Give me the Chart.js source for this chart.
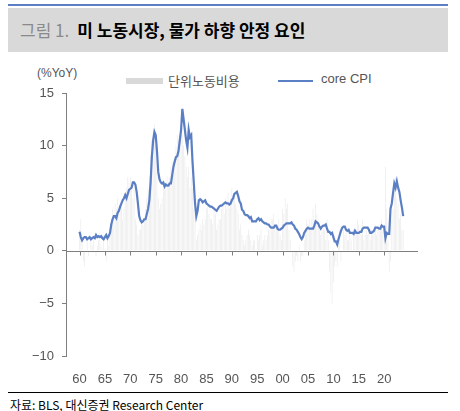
<!DOCTYPE html>
<html>
<head>
<meta charset="utf-8">
<script src="https://cdn.jsdelivr.net/npm/chart.js@4"></script>
<style>
  body { margin: 0; width: 460px; height: 411px; background: #fff; position: relative; overflow: hidden;
         font-family: "Noto Sans CJK KR", "Liberation Sans", sans-serif; }
  #topline { position: absolute; left: 8px; top: 4px; width: 440px; height: 2px; background: #5b7fc5; }
  #band { position: absolute; left: 8px; top: 8px; width: 440px; height: 44px; background: #d9d9d9; }
  #title { position: absolute; left: 20px; top: 17px; font-size: 17px; font-weight: bold; color: #000; }
  #title span { color: #8a8a8a; font-weight: normal; margin-right: 8px; }
  #unit { position: absolute; left: 37px; top: 66px; font-size: 12px; color: #555; font-family: "Liberation Sans", sans-serif; }
  .lg { position: absolute; top: 71px; font-size: 13px; color: #555; }
  .sw { position: absolute; }
  #srcline { position: absolute; left: 8px; top: 392px; width: 440px; height: 1px; background: #000; }
  #src { position: absolute; left: 10px; top: 396px; font-size: 12px; color: #000; }
  canvas { position: absolute; left: 0; top: 0; }
</style>
</head>
<body>
<div id="topline"></div>
<div id="band"></div>
<div id="title"><span>그림 1.</span>미 노동시장, 물가 하향 안정 요인</div>
<div id="unit">(%YoY)</div>
<div class="sw" style="left:126px;top:78px;width:37px;height:6px;background:#d9d9d9"></div>
<div class="lg" style="left:168px">단위노동비용</div>
<div class="sw" style="left:278px;top:80px;width:35px;height:2px;background:#5b7fc5"></div>
<div class="lg" style="left:321px;font-family:'Liberation Sans',sans-serif">core CPI</div>
<div id="srcline"></div>
<div id="src">자료: BLS, 대신증권 Research Center</div>
<canvas id="chart" width="460" height="411"></canvas>
<script>
var startYear = 1960;
var yTicks = [15, 10, 5, 0, -5, -10];

// core CPI, quarterly from 1960Q1
var coreCpi = [
  1.8,1.3,1.0,1.2, 1.3,1.3,1.1,1.2, 1.3,1.1,1.2,1.3, 1.2,1.5,1.3,1.4, 1.3,1.4,1.2,1.1,
  1.3,1.5,1.2,1.4, 1.7,2.5,3.0,3.3, 3.3,3.1,3.6,3.8, 4.2,4.5,4.8,5.0, 5.3,5.0,5.4,5.8,
  5.9,6.0,6.5,6.5, 6.3,5.6,4.5,3.3, 2.9,2.7,2.8,3.0, 3.0,3.5,4.0,4.8, 6.5,9.0,10.5,11.3,
  11.0,9.5,7.5,6.8, 6.5,6.4,6.5,6.1, 6.3,6.2,6.2,6.4, 6.4,7.2,8.0,8.5, 8.9,9.0,9.5,10.5,
  11.5,13.5,12.5,11.5, 10.5,9.8,11.5,10.8, 11.0,8.5,6.5,4.5, 3.3,3.8,4.8,4.9, 4.8,4.6,4.7,4.8,
  4.5,4.4,4.3,4.2, 4.2,4.1,4.0,3.9, 3.8,4.0,4.2,4.3, 4.3,4.4,4.5,4.6, 4.5,4.5,4.4,4.5,
  4.8,5.0,5.4,5.5, 5.6,5.2,4.7,4.5, 3.9,3.8,3.5,3.4, 3.4,3.3,3.1,3.2, 2.8,2.8,2.8,2.8,
  3.0,3.1,2.9,3.0, 2.8,2.7,2.6,2.6, 2.5,2.5,2.3,2.2, 2.2,2.2,2.4,2.4, 2.1,2.0,2.0,2.1,
  2.2,2.4,2.5,2.6, 2.6,2.6,2.6,2.7, 2.5,2.4,2.1,2.0, 1.8,1.6,1.3,1.1, 1.3,1.7,1.9,2.1,
  2.2,2.1,2.1,2.1, 2.1,2.4,2.8,2.7, 2.6,2.3,2.1,2.3, 2.4,2.4,2.5,2.1, 1.8,1.8,1.6,1.7,
  1.3,0.9,0.9,0.6, 1.1,1.5,1.9,2.2, 2.3,2.3,2.0,1.9, 2.0,1.7,1.7,1.7, 1.6,1.9,1.7,1.7,
  1.7,1.8,1.8,2.1, 2.2,2.2,2.2,2.2, 2.0,1.7,1.7,1.8, 1.9,2.2,2.2,2.2, 2.1,2.1,2.4,2.3,
  2.3,1.2,1.7,1.6, 1.6,4.0,4.5,5.5, 6.4,6.0,6.6,6.0, 5.6,4.8,4.1,3.3
];

// 단위노동비용 (unit labor cost), quarterly from 1960Q1
var unitLabor = [
  2,3,1,-1, -1.5,0,1,-0.5, 0,1,0.5,1, 0,-0.5,0.5,1, 1,0.5,0,1.5,
  0,-1,1,0.5, 2,3,4,3.5, 4.5,4,5,3.5, 4,4.5,3,4, 5,6,7,6.5,
  7,6,5,6, 3,2.5,1.5,2, 2,3,2.5,3, 4,5,6,7, 9,10.5,11,12,
  10,8,5,4, 4.5,5,6,6.5, 6.5,7,6,7, 8,8.5,8,9, 10,11,10.5,11,
  12,11,10,9, 8,7,8,6, 7,6,4,3.5, 1,1.5,2,2.5, 2,3,2.5,3,
  4,4.5,3.5,3, 3,2.5,4,3.5, 2,2.5,3,3, 4,4.5,3.5,5, 4,5.5,4,5,
  6,5,5.5,4.5, 4,3.5,2,2.5, 1.5,1,0.5,1, 1.5,2,1.5,1, 0.5,1,1,0,
  1.5,1,1.5,2, 0.5,1,1.5,1, 1.5,2,2,3, 3,3.5,2.5,2, 2,3,1.5,1,
  4,3.5,5,4, 4.5,2,1,0, -1.5,-2,-1,-0.5, -1,0.5,-1,-0.5, -0.5,1,2,3,
  2.5,3,2,3, 4,3,4.5,3.5, 3,2,1.5,2, 2.5,2,1,3, 1,-2,-4,-5,
  -3,-1.5,-1,-1.5, 1,2,-1,0, 2,1.5,2,1, 1,1.5,1,0, 2,1.5,2,3,
  2.5,2,1.5,3, 1,1.5,2,1.5, 2,1,2,1.5, 2,2.5,1.5,2, 2.5,2,3,2,
  2.5,8,4,1, -2,-1,3,4, 6,7,5,4.5, 3,3.5,2,2
];

function toPoints(arr) {
  return arr.map(function (v, i) { return { x: startYear + i / 4, y: v }; });
}

// zero line with year tick marks, like the original axis
var zeroAxis = {
  id: 'zeroAxis',
  afterDatasetsDraw: function (chart) {
    var ctx = chart.ctx, x = chart.scales.x, y = chart.scales.y;
    var y0 = Math.round(y.getPixelForValue(0)) + 0.5;
    ctx.save();
    ctx.strokeStyle = '#7f7f7f';
    ctx.lineWidth = 1;
    ctx.beginPath();
    ctx.moveTo(chart.chartArea.left, y0);
    ctx.lineTo(chart.chartArea.right, y0);
    for (var yr = 1960; yr <= 2020; yr += 5) {
      var px = Math.round(x.getPixelForValue(yr)) + 0.5;
      ctx.moveTo(px, y0);
      ctx.lineTo(px, y0 + 4);
    }
    ctx.stroke();
    ctx.restore();
  }
};

new Chart(document.getElementById('chart'), {
  data: {
    datasets: [{
      type: 'line',
      label: 'core CPI',
      data: toPoints(coreCpi),
      borderColor: '#5b7fc5',
      borderWidth: 2.2,
      pointRadius: 0,
      tension: 0,
      order: 1
    }, {
      type: 'bar',
      label: '단위노동비용',
      data: toPoints(unitLabor),
      backgroundColor: '#e9e9e9',
      barPercentage: 0.5,
      categoryPercentage: 1,
      order: 2
    }]
  },
  options: {
    responsive: false,
    animation: false,
    layout: { padding: { top: 93, right: 42 } },
    plugins: { legend: { display: false }, tooltip: { enabled: false } },
    scales: {
      x: {
        type: 'linear',
        min: 1960,
        max: 2024,
        afterFit: function (s) { s.height = 55; },
        afterBuildTicks: function (s) {
          var t = [];
          for (var yr = 1960; yr <= 2020; yr += 5) t.push({ value: yr });
          s.ticks = t;
        },
        grid: { display: false },
        border: { display: false },
        ticks: {
          padding: 8,
          color: '#555',
          font: { size: 13, family: 'Liberation Sans' },
          callback: function (v) { return String(v).slice(2); }
        }
      },
      y: {
        min: -10,
        max: 15,
        afterFit: function (s) { s.width = 66; },
        afterBuildTicks: function (s) { s.ticks = yTicks.map(function (v) { return { value: v }; }); },
        grid: { drawOnChartArea: false, tickLength: 4, color: '#7f7f7f' },
        border: { color: '#7f7f7f' },
        ticks: {
          padding: 8,
          color: '#555',
          font: { size: 13, family: 'Liberation Sans' },
          callback: function (v) { return v < 0 ? '\u2212' + Math.abs(v) : v; }
        }
      }
    }
  },
  plugins: [zeroAxis]
});
</script>
</body>
</html>
